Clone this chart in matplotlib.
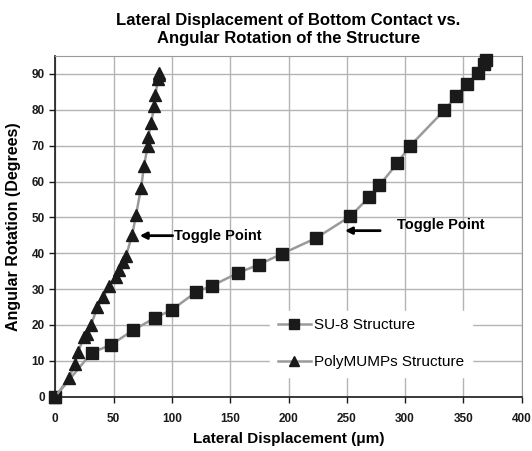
import matplotlib.pyplot as plt

plt.rcParams['font.family'] = ['Liberation Sans', 'DejaVu Sans']

# SU-8 structure (squares)
su8_x = [0, 31.2, 47.5, 67, 85.6, 99.9, 120.8, 134.2, 156.6, 174.3, 194.8, 223.5,
         253, 269.3, 277.9, 293.3, 303.9, 333.7, 344, 353.4, 362.6, 367.4, 369.7]
su8_y = [0, 12.3, 14.4, 18.6, 22.0, 24.2, 29.2, 30.9, 34.5, 36.8, 39.9, 44.2,
         50.3, 55.7, 58.9, 65.1, 69.8, 79.9, 83.8, 87.3, 90.3, 92.7, 93.9]

# PolyMUMPs structure (triangles)
poly_x = [0, 11.8, 16.9, 19.5, 24.6, 27, 30.6, 36, 41.2, 46.1, 51.8, 54.7, 57.9,
          60.7, 66.0, 69.3, 73.6, 76.1, 79.3, 79.8, 82.1, 85, 85.6, 88.4, 89, 88.6]
poly_y = [0, 5.3, 9.1, 12.5, 16.6, 17.5, 19.9, 24.9, 27.7, 30.9, 33.5, 35.3, 37.5,
          39.3, 45.2, 50.8, 58.3, 64.4, 70.0, 72.3, 76.4, 81.0, 84.1, 88.5, 89.7, 90.3]

x_ticks = [0, 50, 100, 150, 200, 250, 300, 350, 400]
y_ticks = [0, 10, 20, 30, 40, 50, 60, 70, 80, 90]

fig = plt.figure(figsize=(5.32, 4.51), dpi=100)
ax = fig.add_axes([55.3 / 532, 1 - 396.7 / 451, (521.7 - 55.3) / 532, (396.7 - 56) / 451])

line_col = '#9a9a9a'
ax.plot(su8_x, su8_y, color=line_col, lw=1.8, marker='s', ms=8, mfc='#1a1a1a',
        mec='#1a1a1a', label='SU-8 Structure', clip_on=False, zorder=3)
ax.plot(poly_x, poly_y, color=line_col, lw=1.8, marker='^', ms=8.5, mfc='#1a1a1a',
        mec='#1a1a1a', label='PolyMUMPs Structure', clip_on=False, zorder=3)

ax.set_xlim(0, 400)
ax.set_ylim(0, 95)
ax.set_xticks(x_ticks)
ax.set_yticks(y_ticks)
ax.grid(color='#b4b4b4', lw=1.0)
ax.set_axisbelow(True)

for s in ['top', 'right']:
    ax.spines[s].set_color('#9a9a9a')
for s in ['left', 'bottom']:
    ax.spines[s].set_color('#1a1a1a')
    ax.spines[s].set_linewidth(1.2)

ax.tick_params(axis='both', labelsize=8.5, colors='#1a1a1a', length=4, width=1)
ax.tick_params(axis='x', pad=8)
for lab in ax.get_xticklabels() + ax.get_yticklabels():
    lab.set_fontweight('bold')

ax.set_xlabel('Lateral Displacement (\u03bcm)', fontsize=11, fontweight='bold', labelpad=5)
ax.set_ylabel('Angular Rotation (Degrees)', fontsize=11.5, fontweight='bold', labelpad=8)
ax.set_title('Lateral Displacement of Bottom Contact vs.\nAngular Rotation of the Structure',
             fontsize=12, fontweight='bold', pad=9, linespacing=1.3)

# toggle point annotations
ax.annotate('', xy=(70, 44.9), xytext=(103, 44.9),
            arrowprops=dict(arrowstyle='-|>', color='black', lw=2, mutation_scale=10))
ax.text(102, 44.9, 'Toggle Point', fontsize=10.5, fontweight='bold', va='center', ha='left')
ax.annotate('', xy=(246, 46.3), xytext=(281, 46.3),
            arrowprops=dict(arrowstyle='-|>', color='black', lw=2, mutation_scale=10))
ax.text(293, 48.0, 'Toggle Point', fontsize=10.5, fontweight='bold', va='center', ha='left')

leg = ax.legend(loc='center', bbox_to_anchor=(0.677, 0.155), frameon=True,
                fontsize=11, markerscale=0.85, handlelength=2.2, labelspacing=1.5,
                handletextpad=0.2, borderpad=0.5)
leg.get_frame().set_edgecolor('white')
leg.get_frame().set_facecolor('white')
leg.get_frame().set_alpha(1)

plt.savefig('out.png', dpi=100)
